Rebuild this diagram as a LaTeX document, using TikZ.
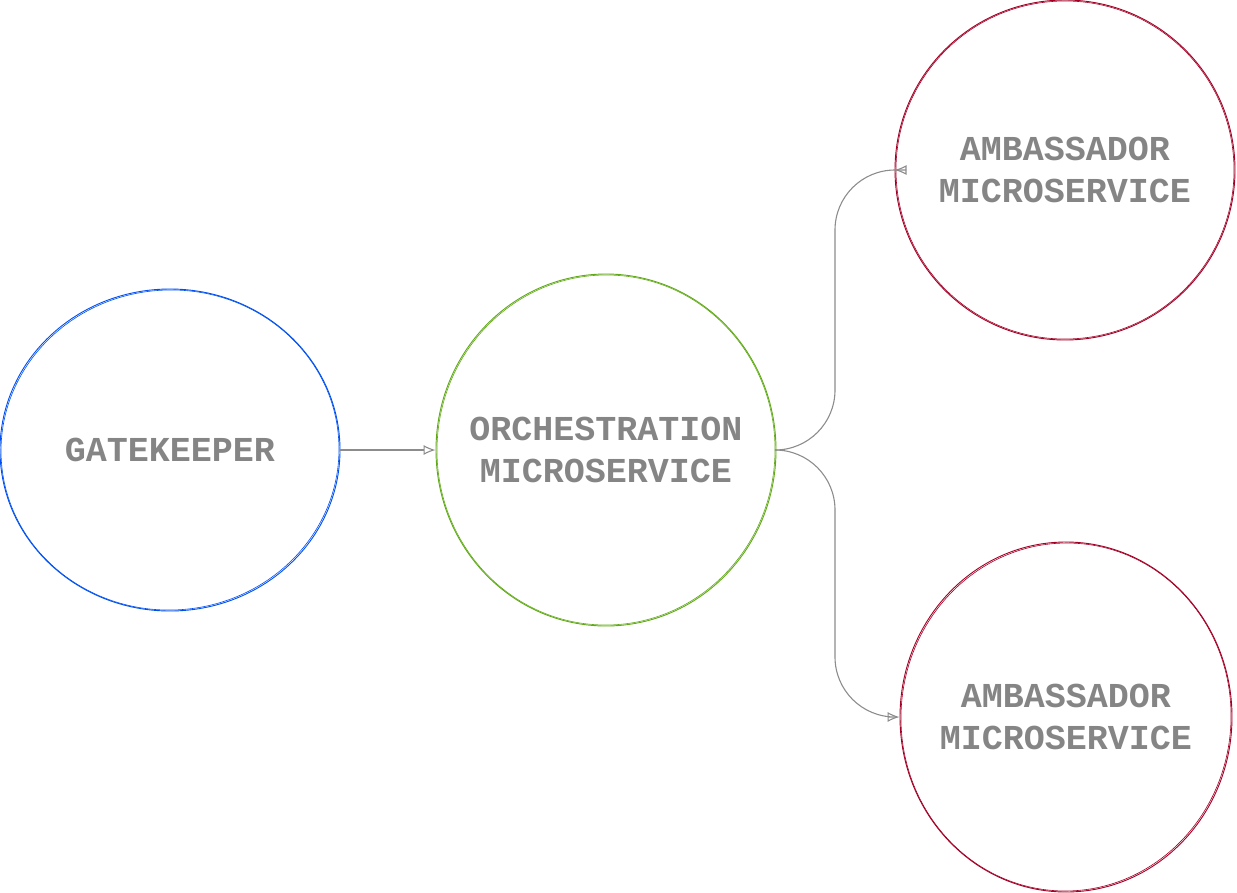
\documentclass[tikz,border=0pt]{standalone}
\usepackage{fontspec}
\setmonofont{Liberation Mono}
\usetikzlibrary{shapes.geometric,arrows.meta}
\definecolor{gkblue}{HTML}{0050EF}
\definecolor{orgreen}{HTML}{60A917}
\definecolor{ambred}{HTML}{A20025}
\definecolor{txtgray}{HTML}{858585}
\definecolor{arrgray}{HTML}{8C8C8C}
\tikzset{
  svc/.style={ellipse, draw, line width=0.9pt, inner sep=0pt},
  svctext/.style={align=center, text=txtgray, inner sep=0pt,
    font=\ttfamily\bfseries\fontsize{35}{42}\selectfont},
  sketch/.style={line width=0.6pt},
  conn/.style={draw=arrgray, line width=1.1pt, -{Latex[open,length=12pt,width=10pt]}},
}
\begin{document}
\begin{tikzpicture}[x=1pt,y=-1pt]
\useasboundingbox (0,0) rectangle (1237,892);
\node[svc, draw=gkblue, minimum width=340pt, minimum height=322pt,
  label={[svctext]center:GATEKEEPER}] (g) at (170,450) {};
\node[svc, draw=orgreen, minimum width=340pt, minimum height=352pt,
  label={[svctext]center:ORCHESTRATION\\MICROSERVICE}] (o) at (606,450) {};
\node[svc, draw=ambred, minimum width=340pt, minimum height=340pt,
  label={[svctext]center:AMBASSADOR\\MICROSERVICE}] (a1) at (1065,170) {};
\node[svc, draw=ambred, minimum width=332pt, minimum height=350pt,
  label={[svctext]center:AMBASSADOR\\MICROSERVICE}] (a2) at (1066,717) {};
% sketchy second strokes
\draw[sketch, gkblue] (g.center) ellipse [x radius=169pt, y radius=160pt, rotate=3];
\draw[sketch, orgreen] (o.center) ellipse [x radius=169pt, y radius=175pt, rotate=-2];
\draw[sketch, ambred] (a1.center) ellipse [x radius=169pt, y radius=169pt, rotate=4];
\draw[sketch, ambred] (a2.center) ellipse [x radius=165pt, y radius=174pt, rotate=-3];
% connectors
\draw[conn] (g.east) -- (o.west);
\draw[conn, rounded corners=60pt] (o.east) -| (835,300) |- (a1.west);
\draw[conn, rounded corners=60pt] (o.east) -| (835,580) |- (a2.west);
\end{tikzpicture}
\end{document}
